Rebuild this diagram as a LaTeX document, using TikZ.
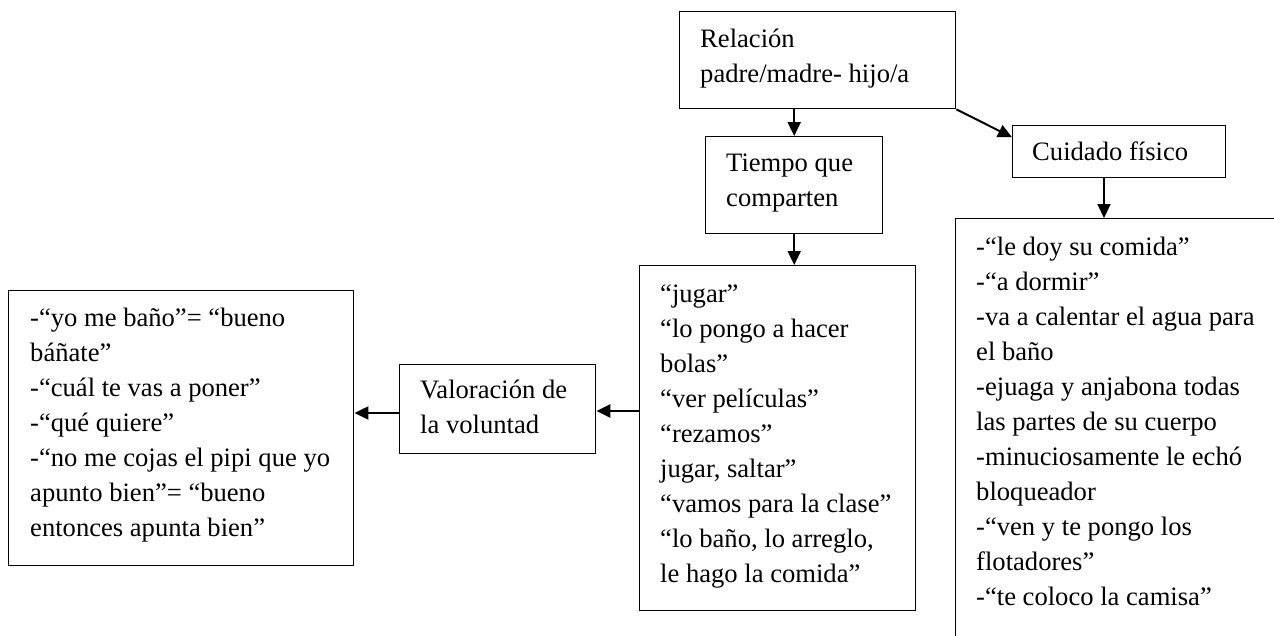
\documentclass[tikz,border=0pt]{standalone}
\usepackage{fontspec}
\setmainfont{Liberation Serif}
\usetikzlibrary{arrows.meta,calc}
\begin{document}
\begin{tikzpicture}[x=1pt,y=-1pt,
  box/.style={draw, line width=1.4pt, inner sep=0pt, anchor=north west},
  txt/.style={anchor=base west, align=left, inner sep=0pt, font=\fontsize{26.6}{35}\selectfont},
  arr/.style={line width=2pt, -{Triangle[length=14pt,width=13pt]}}]
\useasboundingbox (0,0) rectangle (1274,635);
\clip (0,0) rectangle (1274,635);
\fill[white] (0,0) rectangle (1274,635);

% boxes
\node[box, minimum width=276pt, minimum height=97pt] (rel) at (679,11) {};
\node[box, minimum width=177pt, minimum height=97pt] (tiem) at (705,136) {};
\node[box, minimum width=213pt, minimum height=52pt] (cuid) at (1012,125) {};
\node[box, minimum width=345pt, minimum height=442pt] (cuidl) at (955,218) {};
\node[box, minimum width=276pt, minimum height=345pt] (jug) at (639,265) {};
\node[box, minimum width=196pt, minimum height=89pt] (val) at (399,364) {};
\node[box, minimum width=345pt, minimum height=275pt] (lbox) at (8,290) {};

% texts (anchored at the baseline of their last line)
\node[txt] (relt) at (700,82) {Relación\\padre/madre- hijo/a};
\node[txt] (tiemt) at (726,206) {Tiempo que\\comparten};
\node[txt] (cuidt) at (1032,160) {Cuidado físico};
\node[txt] (cuidlt) at (976,605) {-“le doy su comida”\\-“a dormir”\\-va a calentar el agua para\\el baño\\-ejuaga y anjabona todas\\las partes de su cuerpo\\-minuciosamente le echó\\bloqueador\\-“ven y te pongo los\\flotadores”\\-“te coloco la camisa”};
\node[txt] (jugt) at (660,582) {“jugar”\\“lo pongo a hacer\\bolas”\\“ver películas”\\“rezamos”\\jugar, saltar”\\“vamos para la clase”\\“lo baño, lo arreglo,\\le hago la comida”};
\node[txt] (valt) at (420,433) {Valoración de\\la voluntad};
\node[txt] (lboxt) at (30,536) {-“yo me baño”= “bueno\\báñate”\\-“cuál te vas a poner”\\-“qué quiere”\\-“no me cojas el pipi que yo\\apunto bien”= “bueno\\entonces apunta bien”};

% connectors
\coordinate (c3) at (1104,0);
\coordinate (c5) at (0,411);
\coordinate (c6) at (0,413);
\draw[arr] (rel.south -| tiem.north) -- (tiem.north);
\draw[arr] (rel.south east) -- ($(cuid.north west)!0.23!(cuid.south west)$);
\draw[arr] (cuid.south -| c3) -- (cuidl.north -| c3);
\draw[arr] (tiem.south) -- (jug.north -| tiem.south);
\draw[arr, line width=2.7pt] (jug.west |- c5) -- (val.east |- c5);
\draw[arr] (val.west |- c6) -- (lbox.east |- c6);
\end{tikzpicture}
\end{document}
